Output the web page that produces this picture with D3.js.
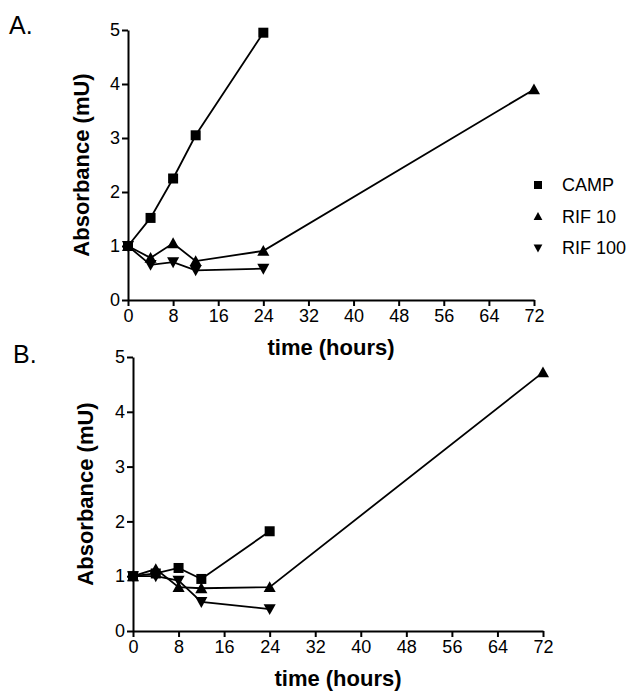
<!DOCTYPE html>
<html>
<head>
<meta charset="utf-8">
<script src="https://cdn.jsdelivr.net/npm/d3@7"></script>
<style>
  body { margin: 0; background: #fff; }
  text { font-family: "Liberation Sans", Arial, sans-serif; fill: #000; }
</style>
</head>
<body>
<script>
// canvas size
var width = 643,
    height = 696;

// time points (hours)
var hoursA = [0, 4, 8, 12, 24];
var hoursLong = [0, 4, 8, 12, 24, 72];

// panel A values
var campA = [1.0, 1.52, 2.25, 3.05, 4.95];
var rif10A = [1.0, 0.78, 1.05, 0.72, 0.91, 3.9];
var rif100A = [1.0, 0.65, 0.70, 0.55, 0.58];

// panel B values
var campB = [1.0, 1.05, 1.15, 0.95, 1.82];
var rif10B = [1.0, 1.13, 0.80, 0.78, 0.80, 4.72];
var rif100B = [1.0, 1.0, 0.92, 0.53, 0.40];

// ticks and legend
var xTicks = [0, 8, 16, 24, 32, 40, 48, 56, 64, 72];
var yTicks = [0, 1, 2, 3, 4, 5];
var legendNames = ['CAMP', 'RIF 10', 'RIF 100'];
var legendShapes = ['square', 'up', 'down'];

var svg = d3.select('body')
    .append('svg')
    .attr('width', width)
    .attr('height', height);

// marker drawing - shape is 'square', 'up' or 'down'
function marker(sel, shape, s) {
    if (shape === 'square') {
        sel.append('rect')
            .attr('x', -s / 2).attr('y', -s / 2)
            .attr('width', s).attr('height', s);
    } else {
        var h = s * 0.9, w = s * 0.55;
        var pts = shape === 'up'
            ? [[0, -h / 2 - 1], [w, h / 2], [-w, h / 2]]
            : [[0, h / 2 + 1], [w, -h / 2], [-w, -h / 2]];
        sel.append('path').attr('d', 'M' + pts.join('L') + 'Z');
    }
}

function drawPanel(opt) {
    var x = d3.scaleLinear().domain([0, 72]).range([opt.x0, opt.x1]);
    var y = d3.scaleLinear().domain([0, 5]).range([opt.y0, opt.y1]);
    var g = svg.append('g');

    // x axis
    var xa = g.append('g')
        .attr('transform', 'translate(0,' + opt.y0 + ')')
        .call(d3.axisBottom(x).tickValues(xTicks).tickSize(6).tickSizeOuter(0).tickPadding(3));
    // y axis
    var ya = g.append('g')
        .attr('transform', 'translate(' + opt.x0 + ',0)')
        .call(d3.axisLeft(y).tickValues(yTicks).tickFormat(d3.format('d'))
            .tickSize(6).tickSizeOuter(0).tickPadding(2));

    [xa, ya].forEach(function(a) {
        a.select('.domain').attr('stroke', '#000').attr('stroke-width', 2);
        a.selectAll('.tick line').attr('stroke', '#000').attr('stroke-width', 2);
        a.selectAll('.tick text')
            .attr('fill', '#000')
            .style('font-size', '18px')
            .style('font-family', '"Liberation Sans", Arial, sans-serif');
    });

    // axis titles
    g.append('text')
        .attr('x', (opt.x0 + opt.x1) / 2)
        .attr('y', opt.y0 + 55)
        .attr('text-anchor', 'middle')
        .style('font-size', '22px')
        .style('font-weight', 'bold')
        .text('time (hours)');

    g.append('text')
        .attr('transform', 'translate(' + (opt.x0 - opt.tx) + ',' + ((opt.y0 + opt.y1) / 2) + ') rotate(-90)')
        .attr('text-anchor', 'middle')
        .style('font-size', '22px')
        .style('font-weight', 'bold')
        .text('Absorbance (mU)');

    // panel letter
    g.append('text')
        .attr('x', opt.lx).attr('y', opt.ly)
        .style('font-size', '25px')
        .text(opt.letter);

    var line = d3.line()
        .x(function(d) { return x(d[0]); })
        .y(function(d) { return y(d[1]); });

    opt.series.forEach(function(s) {
        var pts = s.values.map(function(v, i) { return [s.hours[i], v]; });
        g.append('path')
            .datum(pts)
            .attr('d', line)
            .attr('fill', 'none')
            .attr('stroke', '#000')
            .attr('stroke-width', 1.8);
        pts.forEach(function(p) {
            var m = g.append('g').attr('transform', 'translate(' + x(p[0]) + ',' + y(p[1]) + ')');
            marker(m, s.shape, s.shape === 'square' ? 10 : 11);
        });
    });
}

drawPanel({
    letter: 'A.', lx: 9, ly: 34, tx: 39,
    x0: 128, x1: 534, y0: 300, y1: 30,
    series: [
        { values: rif100A, hours: hoursA, shape: 'down' },
        { values: rif10A, hours: hoursLong, shape: 'up' },
        { values: campA, hours: hoursA, shape: 'square' }
    ]
});

drawPanel({
    letter: 'B.', lx: 13, ly: 363, tx: 40,
    x0: 133, x1: 543, y0: 631, y1: 357,
    series: [
        { values: rif100B, hours: hoursA, shape: 'down' },
        { values: rif10B, hours: hoursLong, shape: 'up' },
        { values: campB, hours: hoursA, shape: 'square' }
    ]
});

// legend
var legend = svg.append('g');
legendNames.forEach(function(name, i) {
    var yy = 185 + i * 31.5;
    var m = legend.append('g').attr('transform', 'translate(538,' + yy + ')');
    marker(m, legendShapes[i], 8);
    legend.append('text')
        .attr('x', 562).attr('y', yy + 6)
        .style('font-size', '18px')
        .text(name);
});
</script>
</body>
</html>
